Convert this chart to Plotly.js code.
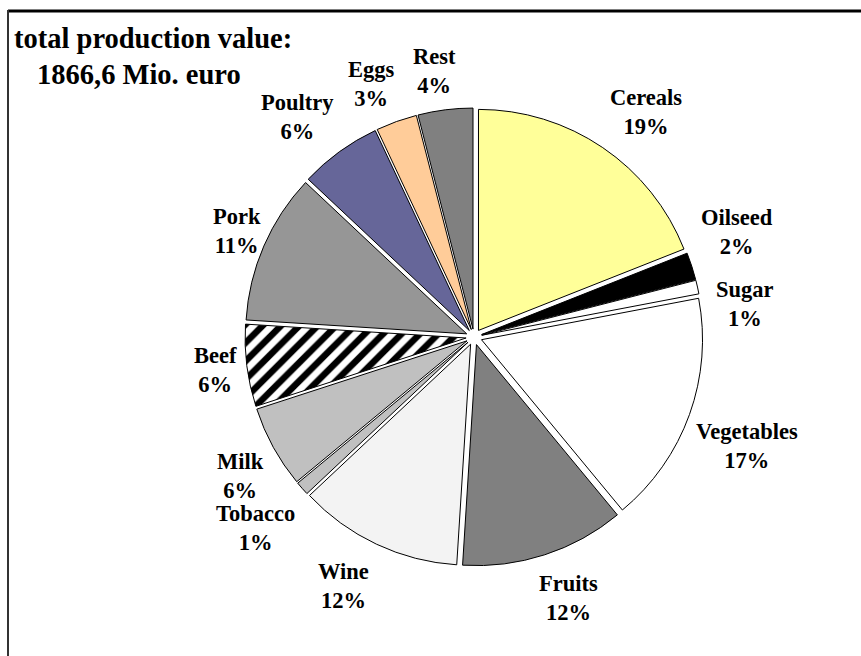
<!DOCTYPE html>
<html>
<head>
<meta charset="utf-8">
<script src="https://cdn.plot.ly/plotly-3.0.1.min.js"></script>
<style>html,body{margin:0;padding:0;background:#fff;}#chart{width:861px;height:656px;}</style>
</head>
<body>
<div id="chart"></div>
<script>
// ---- data ----
const categories = ["Cereals","Oilseed","Sugar","Vegetables","Fruits","Wine","Tobacco","Milk","Beef","Pork","Poultry","Eggs","Rest"];
const shares = [19, 2, 1, 17, 12, 12, 1, 6, 6, 11, 6, 3, 4];
const totalText = ["total production value:", "1866,6 Mio. euro"];

// ---- styles ----
const colors = ["#ffff99","#000000","#ffffff","#ffffff","#808080","#f3f3f3","#c0c0c0","#c0c0c0","#ffffff","#969696","#666699","#ffcc99","#808080"];
const patterns = ["","","","","","","","","/","","","",""];
// label centres in pixels (x, y from top)
const labelPos = [[646,112],[737,232],[745,304],[747,446],[568,598],[343,586],[255,528],[240,476],[215,370],[237,231],[297,117],[371,84],[435,71]];

const W = 861, H = 656;
const FONT = "Liberation Serif, Times New Roman, serif";

const annotations = categories.map((c, i) => ({
  text: "<b>" + c + "<br>" + shares[i] + "%</b>",
  xref: "paper", yref: "paper",
  x: labelPos[i][0] / W, y: 1 - labelPos[i][1] / H,
  xanchor: "center", yanchor: "middle", align: "center",
  showarrow: false,
  font: {family: FONT, size: 22.5, color: "#000"}
}));
annotations.push({
  text: "<b>" + totalText[0] + "</b>", xref: "paper", yref: "paper",
  x: 12 / W, y: 1 - 38 / H, xanchor: "left", yanchor: "middle", showarrow: false,
  font: {family: FONT, size: 28.5, color: "#000"}
});
annotations.push({
  text: "<b>" + totalText[1] + "</b>", xref: "paper", yref: "paper",
  x: 35 / W, y: 1 - 74 / H, xanchor: "left", yanchor: "middle", showarrow: false,
  font: {family: FONT, size: 28.5, color: "#000"}
});

const cx = 474, cy = 337, span = 229;
const trace = {
  type: "pie",
  labels: categories,
  values: shares,
  sort: false,
  direction: "clockwise",
  rotation: 0,
  pull: 0.036,
  textinfo: "none",
  hoverinfo: "label+percent",
  marker: {
    colors: colors,
    line: {color: "#000", width: 1},
    pattern: {shape: patterns, fgcolor: "#000", bgcolor: "#fff", size: 13, solidity: 0.5, fillmode: "replace"}
  },
  domain: {
    x: [(cx - span) / W, (cx + span) / W],
    y: [(H - cy - span) / H, (H - cy + span) / H]
  }
};

const layout = {
  width: W, height: H,
  margin: {l: 0, r: 0, t: 0, b: 0},
  paper_bgcolor: "#fff",
  showlegend: false,
  annotations: annotations,
  shapes: [
    {type: "line", xref: "paper", yref: "paper", x0: 8 / W, x1: 1, y0: 1 - 11 / H, y1: 1 - 11 / H, line: {color: "#000", width: 3}},
    {type: "line", xref: "paper", yref: "paper", x0: 8 / W, x1: 8 / W, y0: 1 - 10 / H, y1: 0, line: {color: "#333", width: 2}}
  ]
};

Plotly.newPlot("chart", [trace], layout, {displayModeBar: false, staticPlot: true});
</script>
</body>
</html>
